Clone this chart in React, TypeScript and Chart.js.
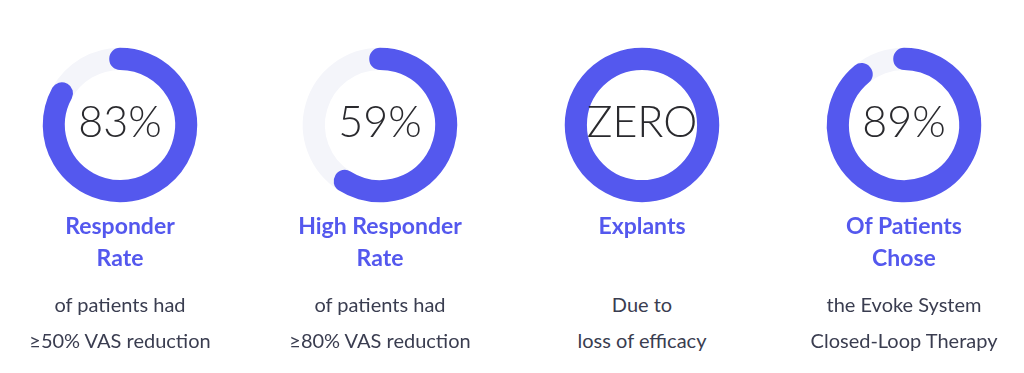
import React, { useEffect, useRef } from "react";
import { Chart, registerables } from "chart.js";

Chart.register(...registerables);

const values = [83, 59, 100, 89];
const centerLabels = ["83%", "59%", "ZERO", "89%"];
const titleLines = [
  ["Responder", "Rate"],
  ["High Responder", "Rate"],
  ["Explants"],
  ["Of Patients", "Chose"],
];
const descLines = [
  ["of patients had", "≥50% VAS reduction"],
  ["of patients had", "≥80% VAS reduction"],
  ["Due to", "loss of efficacy"],
  ["the Evoke System", "Closed-Loop Therapy"],
];
const columnCenters = [120, 380, 642, 904];

const BLUE = "#5458ee";
const TRACK = "#f4f5fa";
const FONT = "Lato, 'Noto Sans', sans-serif";

function Gauge({ value, label }: { value: number; label: string }) {
  const ref = useRef<HTMLCanvasElement | null>(null);
  useEffect(() => {
    if (!ref.current) return;
    const remainder = 100 - value;
    const centerText = {
      id: "centerText",
      afterDraw(chart: any) {
        const { ctx, chartArea } = chart;
        const x = (chartArea.left + chartArea.right) / 2;
        const y = (chartArea.top + chartArea.bottom) / 2;
        ctx.save();
        ctx.font = `300 43px ${FONT}`;
        ctx.fillStyle = "#2a2a2e";
        ctx.textAlign = "center";
        ctx.textBaseline = "middle";
        ctx.fillText(label, x, y - 2);
        ctx.restore();
      },
    };
    const chart = new Chart(ref.current, {
      type: "doughnut",
      data: {
        labels: ["Remainder", "Value"],
        datasets: [
          {
            data: [remainder, value],
            backgroundColor: [TRACK, BLUE],
            borderColor: [TRACK, BLUE],
            borderWidth: 21.5,
            borderJoinStyle: "round",
            borderAlign: "center",
          } as any,
        ],
      },
      options: {
        responsive: false,
        animation: false,
        events: [],
        radius: 66.5,
        cutout: "99%",
        rotation: -remainder * 3.6,
        layout: { padding: 0 },
        plugins: {
          legend: { display: false },
          tooltip: { enabled: false },
        },
      } as any,
      plugins: [centerText],
    });
    return () => chart.destroy();
  }, [value, label]);
  return <canvas ref={ref} width={180} height={180} />;
}

export default function App() {
  return (
    <div
      style={{
        position: "absolute",
        left: 0,
        top: 0,
        width: 1024,
        height: 373,
        background: "#ffffff",
        overflow: "hidden",
      }}
    >
      {values.map((v, i) => {
        const cx = columnCenters[i];
        return (
          <div key={i}>
            <div style={{ position: "absolute", left: cx - 90, top: 125 - 90, width: 180, height: 180 }}>
              <Gauge value={v} label={centerLabels[i]} />
            </div>
            <div
              style={{
                position: "absolute",
                left: cx - 130,
                width: 260,
                top: 209,
                textAlign: "center",
                fontFamily: FONT,
                fontWeight: 700,
                fontSize: 23,
                lineHeight: "32px",
                color: BLUE,
              }}
            >
              {titleLines[i].map((t, j) => (
                <div key={j}>{t}</div>
              ))}
            </div>
            <div
              style={{
                position: "absolute",
                left: cx - 130,
                width: 260,
                top: 286,
                textAlign: "center",
                fontFamily: FONT,
                fontWeight: 400,
                fontSize: 20,
                lineHeight: "36px",
                color: "#3a3d50",
              }}
            >
              {descLines[i].map((t, j) => (
                <div key={j}>{t}</div>
              ))}
            </div>
          </div>
        );
      })}
    </div>
  );
}
